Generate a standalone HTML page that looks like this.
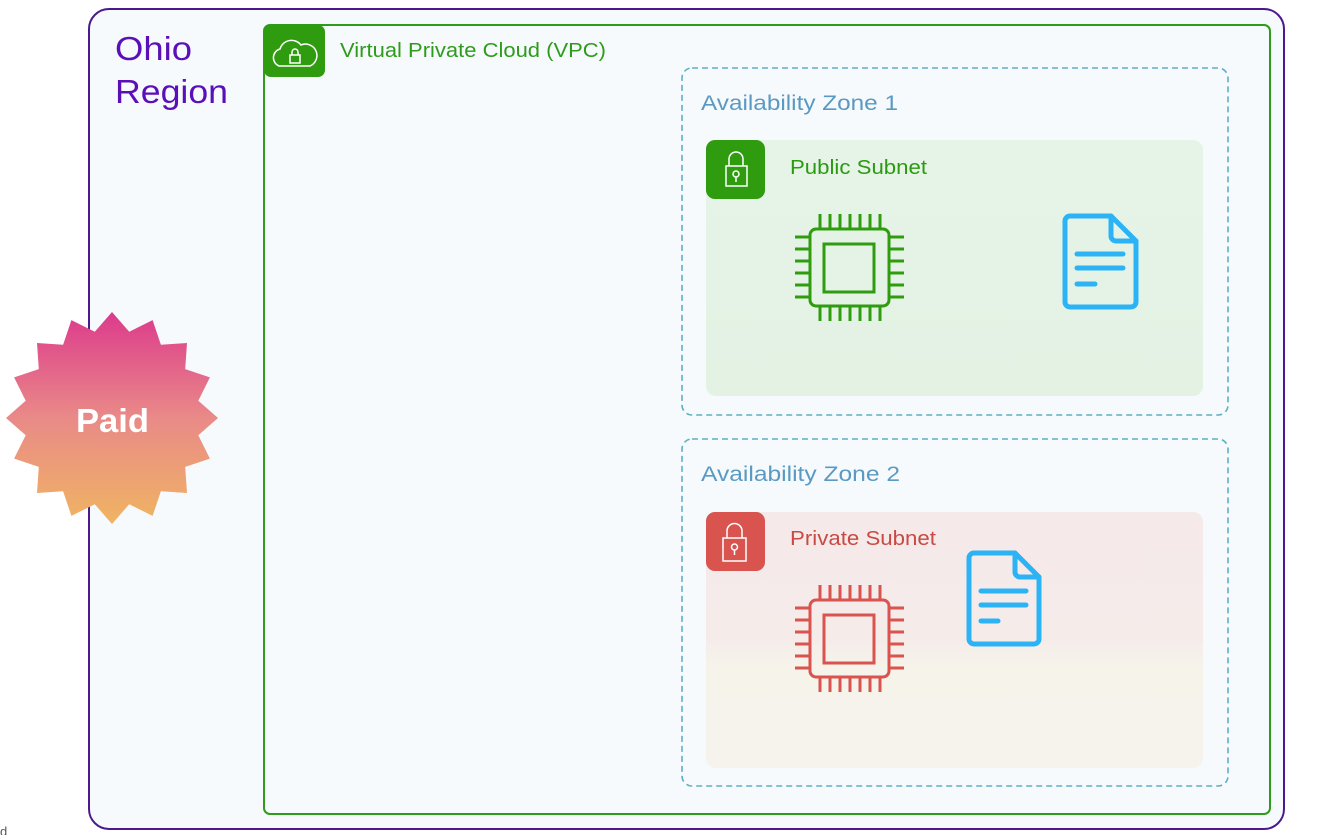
<!DOCTYPE html>
<html><head><meta charset="utf-8"><style>
html,body{margin:0;padding:0;background:#fff;}
body{width:1321px;height:835px;overflow:hidden;position:relative;font-family:"Liberation Sans","DejaVu Sans",sans-serif;}
svg{position:absolute;left:0;top:0;}
</style></head><body>
<svg width="1321" height="835" viewBox="0 0 1321 835" xmlns="http://www.w3.org/2000/svg">
<defs>
<linearGradient id="star" x1="0" y1="0" x2="0" y2="1">
<stop offset="0" stop-color="#dc3a8c"/><stop offset="0.5" stop-color="#e98a88"/><stop offset="1" stop-color="#f0b462"/>
</linearGradient>
<linearGradient id="pub" x1="0" y1="0" x2="0" y2="1">
<stop offset="0" stop-color="#e6f4e8"/><stop offset="1" stop-color="#e4f2e4"/>
</linearGradient>
<linearGradient id="priv" x1="0" y1="0" x2="0" y2="1">
<stop offset="0" stop-color="#f5e9e9"/><stop offset="0.5" stop-color="#f5ecea"/><stop offset="0.6" stop-color="#f5f3ea"/><stop offset="1" stop-color="#f5f3ec"/>
</linearGradient>
</defs>
<!-- Region -->
<rect x="89" y="9" width="1195" height="820" rx="20" fill="#f6fafd" stroke="#4a1a8c" stroke-width="2"/>
<text x="115" y="60" font-size="33" fill="#5a0fb8" textLength="77" lengthAdjust="spacingAndGlyphs">Ohio</text>
<text x="115" y="103" font-size="33" fill="#5a0fb8" textLength="113" lengthAdjust="spacingAndGlyphs">Region</text>
<!-- VPC -->
<rect x="264" y="25" width="1006" height="789" rx="6" fill="#f6fafd" stroke="#2e9c1a" stroke-width="2"/>
<rect x="264" y="25" width="61" height="52" rx="7" fill="#2e9c0e"/>
<path d="M279,66 a9,9 0 0 1 1,-17 a12,12 0 0 1 21,-4 a10,10 0 0 1 9,21 z" fill="none" stroke="#fff" stroke-width="1.5"/>
<rect x="290" y="55" width="10" height="8" fill="none" stroke="#fff" stroke-width="1.5"/>
<path d="M292,55 v-3 a3,3 0 0 1 6,0 v3" fill="none" stroke="#fff" stroke-width="1.5"/>
<text x="340" y="57" font-size="20" fill="#2e9c1a" textLength="266" lengthAdjust="spacingAndGlyphs">Virtual Private Cloud (VPC)</text>
<!-- AZ1 -->
<rect x="682" y="68" width="546" height="347" rx="10" fill="none" stroke="#5fb0c4" stroke-width="1.6" stroke-dasharray="6,4"/>
<text x="701" y="110" font-size="21" fill="#5a9ac2" textLength="197" lengthAdjust="spacingAndGlyphs">Availability Zone 1</text>
<rect x="706" y="140" width="497" height="256" rx="10" fill="url(#pub)"/>
<rect x="706" y="140" width="59" height="59" rx="9" fill="#2e9c0e"/>
<g fill="none" stroke="#fff" stroke-width="1.5">
<rect x="726" y="166" width="21" height="20"/>
<path d="M729,166 v-7 a7,7 0 0 1 14,0 v7"/>
<circle cx="736" cy="174" r="3"/><path d="M736,177 v5"/>
</g>
<text x="790" y="174" font-size="20" fill="#2a9a10" textLength="137" lengthAdjust="spacingAndGlyphs">Public Subnet</text>
<!-- AZ2 -->
<rect x="682" y="439" width="546" height="347" rx="10" fill="none" stroke="#5fb0c4" stroke-width="1.6" stroke-dasharray="6,4"/>
<text x="701" y="481" font-size="21" fill="#5a9ac2" textLength="199" lengthAdjust="spacingAndGlyphs">Availability Zone 2</text>
<rect x="706" y="512" width="497" height="256" rx="10" fill="url(#priv)"/>
<rect x="706" y="512" width="59" height="59" rx="9" fill="#d9534f"/>
<g fill="none" stroke="#fff" stroke-width="1.5">
<rect x="723" y="538" width="23" height="23"/>
<path d="M727,538 v-7 a7.5,7.5 0 0 1 15,0 v7"/>
<circle cx="734.5" cy="547" r="3"/><path d="M734.5,550 v5"/>
</g>
<text x="790" y="545" font-size="20" fill="#c84a44" textLength="146" lengthAdjust="spacingAndGlyphs">Private Subnet</text>
<!-- chips -->
<g transform="translate(810,229)" fill="none" stroke="#2e9c0e" stroke-width="3">
<rect x="0" y="0" width="79" height="77" rx="6"/>
<rect x="14" y="15" width="50" height="48"/>
<path d="M10,0v-15M20,0v-15M30,0v-15M40,0v-15M50,0v-15M60,0v-15M70,0v-15
M10,77v15M20,77v15M30,77v15M40,77v15M50,77v15M60,77v15M70,77v15
M0,8h-15M0,20h-15M0,32h-15M0,44h-15M0,56h-15M0,68h-15
M79,8h15M79,20h15M79,32h15M79,44h15M79,56h15M79,68h15"/>
</g>
<g transform="translate(810,600)" fill="none" stroke="#d9534f" stroke-width="3">
<rect x="0" y="0" width="79" height="77" rx="6"/>
<rect x="14" y="15" width="50" height="48"/>
<path d="M10,0v-15M20,0v-15M30,0v-15M40,0v-15M50,0v-15M60,0v-15M70,0v-15
M10,77v15M20,77v15M30,77v15M40,77v15M50,77v15M60,77v15M70,77v15
M0,8h-15M0,20h-15M0,32h-15M0,44h-15M0,56h-15M0,68h-15
M79,8h15M79,20h15M79,32h15M79,44h15M79,56h15M79,68h15"/>
</g>
<!-- docs -->
<g transform="translate(1065,216)" fill="none" stroke="#2bb3f5" stroke-width="5" stroke-linecap="round" stroke-linejoin="round">
<path d="M5,0 H46 L71,25 V86 a5,5 0 0 1 -5,5 H5 a5,5 0 0 1 -5,-5 V5 a5,5 0 0 1 5,-5 Z"/>
<path d="M46,0 V20 a5,5 0 0 0 5,5 H71"/>
<path d="M12,38 H58 M12,52 H58 M12,68 H30"/>
</g>
<g transform="translate(969,553)" fill="none" stroke="#2bb3f5" stroke-width="5" stroke-linecap="round" stroke-linejoin="round">
<path d="M5,0 H46 L70,24 V86 a5,5 0 0 1 -5,5 H5 a5,5 0 0 1 -5,-5 V5 a5,5 0 0 1 5,-5 Z"/>
<path d="M46,0 V19 a5,5 0 0 0 5,5 H70"/>
<path d="M12,38 H57 M12,52 H57 M12,68 H29"/>
</g>
<!-- starburst -->
<polygon fill="url(#star)" points="112,312 129.2,331.7 152.6,320.1 160.9,344.8 187,343 185.2,369.1 209.9,377.4 198.3,400.8 218,418 198.3,435.2 209.9,458.6 185.2,466.9 187,493 160.9,491.2 152.6,515.9 129.2,504.3 112,524 94.8,504.3 71.4,515.9 63.1,491.2 37,493 38.8,466.9 14.1,458.6 25.7,435.2 6,418 25.7,400.8 14.1,377.4 38.8,369.1 37,343 63.1,344.8 71.4,320.1 94.8,331.7"/>
<text x="76" y="432" font-size="33" font-weight="bold" fill="#fff" textLength="73" lengthAdjust="spacingAndGlyphs">Paid</text>
<text x="0" y="836" font-size="13" fill="#555">d</text>
</svg>
</body></html>
